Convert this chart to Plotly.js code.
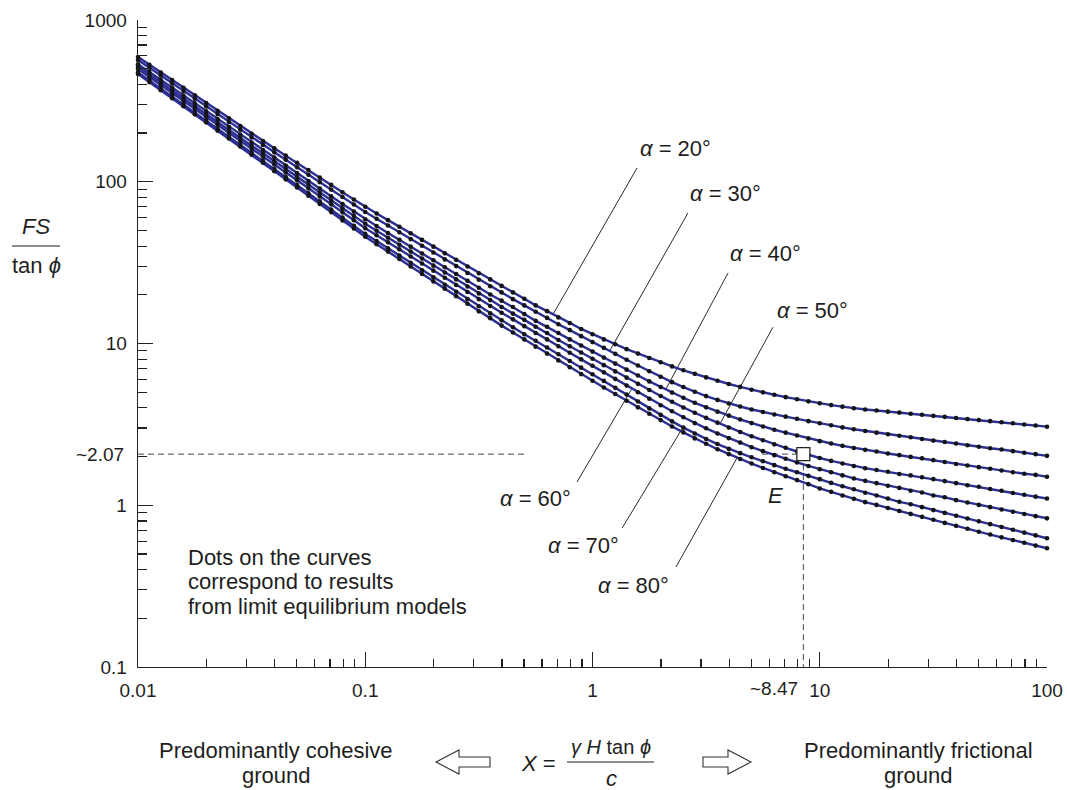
<!DOCTYPE html>
<html>
<head>
<meta charset="utf-8">
<script src="https://cdn.plot.ly/plotly-3.0.1.min.js"></script>
<style>html,body{margin:0;padding:0;background:#fff;}#chart{width:1067px;height:790px;}</style>
</head>
<body>
<div id="chart"></div>
<script>
// X = gamma H tan(phi) / c  (dot positions, 20 per decade)
const X = [
  0.01,0.01122,0.01259,0.01413,0.01585,0.01778,0.01995,0.02239,0.02512,0.02818,
  0.03162,0.03548,0.03981,0.04467,0.05012,0.05623,0.0631,0.07079,0.07943,0.08913,
  0.1,0.1122,0.1259,0.1413,0.1585,0.1778,0.1995,0.2239,0.2512,0.2818,
  0.3162,0.3548,0.3981,0.4467,0.5012,0.5623,0.631,0.7079,0.7943,0.8913,
  1,1.122,1.259,1.413,1.585,1.778,1.995,2.239,2.512,2.818,
  3.162,3.548,3.981,4.467,5.012,5.623,6.31,7.079,7.943,8.913,
  10,11.22,12.59,14.13,15.85,17.78,19.95,22.39,25.12,28.18,
  31.62,35.48,39.81,44.67,50.12,56.23,63.1,70.79,79.43,89.13,100
];
// FS / tan(phi) for each slope angle alpha
const FS_A20 = [590,529,474,425,381,342,307,275,247,221,198,
  178.5,161,145,131,118,106,95.6,86.2,77.7,70.0,
  63.7,57.9,52.7,48.0,43.7,39.7,36.1,32.9,29.9,27.2,
  24.9,22.7,20.7,18.9,17.2,15.85,14.5,13.4,12.3,11.4,
  10.6,9.90,9.23,8.66,8.13,7.66,7.22,6.83,6.49,6.17,
  5.88,5.62,5.39,5.18,4.99,4.82,4.66,4.52,4.39,4.27,
  4.16,4.07,3.98,3.91,3.85,3.79,3.74,3.68,3.63,3.57,
  3.52,3.46,3.41,3.36,3.31,3.26,3.21,3.16,3.11,3.06];
const FS_A30 = [566,507,454,407,364,326,292,262,234,210,188,
  169,152,137,123,110.5,99.4,89.4,80.4,72.3,65.0,
  59.0,53.6,48.7,44.2,40.2,36.5,33.1,30.1,27.3,24.8,
  22.6,20.7,18.8,17.2,15.7,14.4,13.15,12.1,11.1,10.2,
  9.39,8.63,7.94,7.31,6.74,6.23,5.77,5.38,5.03,4.73,
  4.48,4.26,4.08,3.91,3.77,3.64,3.53,3.42,3.31,3.21,
  3.12,3.03,2.95,2.88,2.81,2.75,2.69,2.63,2.57,2.51,
  2.46,2.41,2.35,2.30,2.25,2.21,2.16,2.11,2.07,2.02];
const FS_A40 = [533,477,427,382,341,305,273,244,219,196,175,
  157,141,126,113,101,90.8,81.4,72.9,65.4,58.6,
  53.2,48.2,43.8,39.7,36.0,32.7,29.6,26.9,24.4,22.1,
  20.1,18.4,16.8,15.2,13.8,12.7,11.6,10.6,9.71,8.91,
  8.18,7.51,6.89,6.34,5.83,5.38,4.97,4.62,4.30,4.03,
  3.79,3.58,3.39,3.22,3.07,2.93,2.81,2.70,2.59,2.49,
  2.41,2.33,2.26,2.20,2.15,2.09,2.04,1.99,1.95,1.90,
  1.85,1.80,1.76,1.72,1.68,1.64,1.60,1.565,1.54,1.50];
const FS_A50 = [514,459,411,367,328,293,262,234,209,187,167,
  150,134,120,107,95.8,85.7,76.7,68.6,61.4,55.0,
  49.8,45.1,40.8,37.0,33.5,30.3,27.5,24.9,22.5,20.4,
  18.55,16.8,15.3,14.0,12.7,11.6,10.5,9.61,8.79,8.04,
  7.35,6.72,6.15,5.63,5.16,4.74,4.36,4.02,3.73,3.47,
  3.24,3.02,2.84,2.67,2.52,2.38,2.265,2.15,2.045,1.96,
  1.88,1.81,1.75,1.695,1.65,1.61,1.56,1.53,1.49,1.45,
  1.41,1.37,1.33,1.30,1.26,1.23,1.19,1.16,1.13,1.10];
const FS_A60 = [497,443,396,353,316,282,252,225,201,179,160,
  143,128,114,102,90.9,81.2,72.5,64.7,57.8,51.6,
  46.7,42.2,38.2,34.5,31.2,28.2,25.5,23.0,20.8,18.8,
  17.05,15.5,14.1,12.8,11.6,10.6,9.62,8.76,7.98,7.28,
  6.63,6.04,5.49,5.00,4.55,4.15,3.81,3.50,3.22,2.99,
  2.78,2.60,2.44,2.285,2.16,2.04,1.94,1.84,1.75,1.67,
  1.60,1.53,1.465,1.415,1.37,1.32,1.28,1.23,1.20,1.15,
  1.12,1.075,1.04,1.005,0.973,0.942,0.912,0.883,0.856,0.830];
const FS_A70 = [474,423,377,337,300,268,239,213,190,170,151,
  135,120,107,95.3,84.9,75.6,67.4,60.0,53.5,47.6,
  43.0,38.8,35.0,31.5,28.4,25.7,23.1,20.9,18.8,17.0,
  15.35,13.9,12.6,11.4,10.4,9.45,8.58,7.80,7.09,6.46,
  5.87,5.32,4.83,4.38,3.97,3.62,3.30,3.02,2.78,2.57,
  2.39,2.23,2.10,1.98,1.87,1.77,1.68,1.60,1.52,1.45,
  1.375,1.31,1.255,1.195,1.15,1.10,1.05,1.015,0.973,0.933,
  0.897,0.861,0.828,0.795,0.764,0.734,0.705,0.677,0.651,0.625];
const FS_A80 = [463,413,368,328,293,261,233,207,185,165,147,
  131,116,103.5,92.1,81.9,72.9,64.9,57.7,51.4,45.7,
  41.1,37.0,33.3,29.9,26.9,24.2,21.8,19.6,17.6,15.8,
  14.35,12.9,11.7,10.6,9.56,8.66,7.86,7.13,6.47,5.89,
  5.35,4.87,4.43,4.03,3.68,3.36,3.07,2.82,2.59,2.40,
  2.22,2.07,1.93,1.81,1.70,1.60,1.51,1.43,1.35,1.27,
  1.21,1.15,1.095,1.045,1.005,0.961,0.922,0.884,0.848,0.813,
  0.778,0.746,0.715,0.686,0.659,0.633,0.609,0.586,0.563,0.542];

const CURVES = [FS_A20, FS_A30, FS_A40, FS_A50, FS_A60, FS_A70, FS_A80];
const ALPHA_LABELS = ['20','30','40','50','60','70','80'];

// worked example point E
const E_X = 8.47;
const E_Y = 2.07;

// tick labels
const X_TICKS = [0.01, 0.1, 1, 10, 100];
const X_TICKTEXT = ['0.01', '0.1', '1', '10', '100'];
const Y_TICKS = [0.1, 1, 10, 100, 1000];
const Y_TICKTEXT = ['0.1', '1', '10', '100', '1000'];

// ---------------- layout helpers ----------------
const FONT = 'Liberation Sans, Arial, Helvetica, sans-serif';
const INK = '#1e1e1e';
const L = 138, T = 20, W = 909, H = 647;
const px = v => (v - L) / W;       // pixel x -> paper
const py = v => (T + H - v) / H;   // pixel y -> paper

function minorVals(lo, hi) {
  const out = [];
  for (let d = lo; d < hi; d++) for (let m = 2; m <= 9; m++) out.push(m * Math.pow(10, d));
  return out;
}
function onCurve(ys, x) {
  const lx = Math.log10(x);
  for (let i = 0; i < X.length - 1; i++) {
    const a = Math.log10(X[i]), b = Math.log10(X[i + 1]);
    if (lx >= a && lx <= b) {
      const t = (lx - a) / (b - a);
      return Math.pow(10, Math.log10(ys[i]) + t * (Math.log10(ys[i + 1]) - Math.log10(ys[i])));
    }
  }
  return ys[ys.length - 1];
}

// leader lines: start near the label, end on the curve
const LEADER_START = [[1.57,121.6],[2.63,64.1],[3.95,27.3],[6.22,12.6],[0.855,1.393],[1.35,0.722],[2.33,0.415]];
const LEADER_END_X = [0.67, 1.19, 2.10, 3.64, 1.49, 2.50, 4.33];
const LABEL_PX = [[675,148],[725,194],[765,253],[812,310],[535,498],[583,545],[633,585]];

const traces = [];
// dashed guide lines for point E
const dash = {color:'#444', width:1, dash:'6px,4px'};
traces.push({x:[0.01, 0.515], y:[E_Y, E_Y], mode:'lines', line:dash, hoverinfo:'skip'});
traces.push({x:[5.57, E_X], y:[E_Y, E_Y], mode:'lines', line:dash, hoverinfo:'skip'});
traces.push({x:[E_X, E_X], y:[E_Y, 0.1], mode:'lines', line:dash, hoverinfo:'skip'});
// leader lines
CURVES.forEach((ys, k) => {
  const xe = LEADER_END_X[k];
  traces.push({x:[LEADER_START[k][0], xe], y:[LEADER_START[k][1], onCurve(ys, xe)],
    mode:'lines', line:{color:'#2a2a2a', width:1}, hoverinfo:'skip'});
});
// curves with dots
CURVES.forEach((ys, k) => {
  traces.push({x:X, y:ys, mode:'lines+markers', name:'α = ' + ALPHA_LABELS[k] + '°',
    line:{color:'#2c2f92', width:2.4}, marker:{color:'#141414', size:4.6},
    cliponaxis:false});
});
// point E
traces.push({x:[E_X], y:[E_Y], mode:'markers', cliponaxis:false,
  marker:{symbol:'square', size:13, color:'#ffffff', line:{color:'#222', width:1.3}}});

const ann = [];
const txt = (x, y, text, size, extra) => Object.assign({xref:'paper', yref:'paper', x:x, y:y, text:text,
  showarrow:false, font:{family:FONT, size:size, color:INK}, xanchor:'center', yanchor:'middle'}, extra || {});

// alpha labels
LABEL_PX.forEach((p, k) => ann.push(txt(px(p[0]), py(p[1]), '<i>α</i> = ' + ALPHA_LABELS[k] + '°', 22)));
// E label
ann.push(txt(px(775), py(496), '<i>E</i>', 22));
// special tick labels
ann.push({xref:'paper', yref:'y', x:px(126), y:Math.log10(E_Y), text:'~2.07', showarrow:false,
  xanchor:'right', yanchor:'middle', font:{family:FONT, size:19, color:INK}});
ann.push({xref:'x', yref:'paper', x:Math.log10(E_X), xshift:-3, y:py(688), text:'~8.47', showarrow:false,
  xanchor:'right', yanchor:'middle', font:{family:FONT, size:19, color:INK}});
// note
ann.push(txt(px(186), py(557), 'Dots on the curves', 22, {xanchor:'left'}));
ann.push(txt(px(186), py(581), 'correspond to results', 22, {xanchor:'left'}));
ann.push(txt(px(186), py(606), 'from limit equilibrium models', 22, {xanchor:'left'}));
// y-axis title as fraction
ann.push(txt(px(36), py(226), '<i>FS</i>', 22));
ann.push(txt(px(36), py(265), 'tan <i>ϕ</i>', 22));
// bottom explanation
ann.push(txt(px(276), py(751), 'Predominantly cohesive', 22));
ann.push(txt(px(276), py(775), 'ground', 22));
ann.push(txt(px(918), py(751), 'Predominantly frictional', 22));
ann.push(txt(px(918), py(775), 'ground', 22));
ann.push(txt(px(538), py(763), '<i>X</i> =', 22));
ann.push(txt(px(611), py(747), '<i>γ H</i> tan <i>ϕ</i>', 20));
ann.push(txt(px(611), py(778), '<i>c</i>', 22));

function path(pts) {
  return 'M ' + pts.map(p => px(p[0]).toFixed(5) + ',' + py(p[1]).toFixed(5)).join(' L ') + ' Z';
}
const shapes = [
  {type:'line', xref:'paper', yref:'paper', x0:px(12), x1:px(60), y0:py(246), y1:py(246), line:{color:INK, width:1.2}},
  {type:'line', xref:'paper', yref:'paper', x0:px(567), x1:px(654), y0:py(762), y1:py(762), line:{color:INK, width:1.2}},
  {type:'path', xref:'paper', yref:'paper', line:{color:'#333', width:1.1}, fillcolor:'#fff',
    path:path([[436,762],[459,750],[459,757],[490,757],[490,767],[459,767],[459,774]])},
  {type:'path', xref:'paper', yref:'paper', line:{color:'#333', width:1.1}, fillcolor:'#fff',
    path:path([[751,762],[728,750],[728,757],[703,757],[703,767],[728,767],[728,774]])}
];

const axisBase = {
  type:'log', showgrid:false, zeroline:false, showline:true, linecolor:'#222', linewidth:1.3,
  ticks:'inside', ticklen:15, tickwidth:1.3, tickcolor:'#222', tickmode:'array',
  tickfont:{family:FONT, size:19, color:INK}
};
const layout = {
  width:1067, height:790, margin:{l:L, r:1067 - L - W, t:T, b:790 - T - H},
  paper_bgcolor:'#fff', plot_bgcolor:'#fff', showlegend:false,
  xaxis:Object.assign({}, axisBase, {range:[-2, 2], tickvals:X_TICKS, ticktext:X_TICKTEXT, ticklabelstandoff:6,
    minor:{ticks:'inside', ticklen:8, tickwidth:1.2, tickcolor:'#222', tickvals:minorVals(-2, 2), showgrid:false}}),
  yaxis:Object.assign({}, axisBase, {range:[-1, 3], tickvals:Y_TICKS, ticktext:Y_TICKTEXT, ticklabelstandoff:6,
    minor:{ticks:'inside', ticklen:9, tickwidth:1.2, tickcolor:'#222', tickvals:minorVals(-1, 3), showgrid:false}}),
  annotations:ann, shapes:shapes
};
Plotly.newPlot('chart', traces, layout, {staticPlot:true, displayModeBar:false});
</script>
</body>
</html>
